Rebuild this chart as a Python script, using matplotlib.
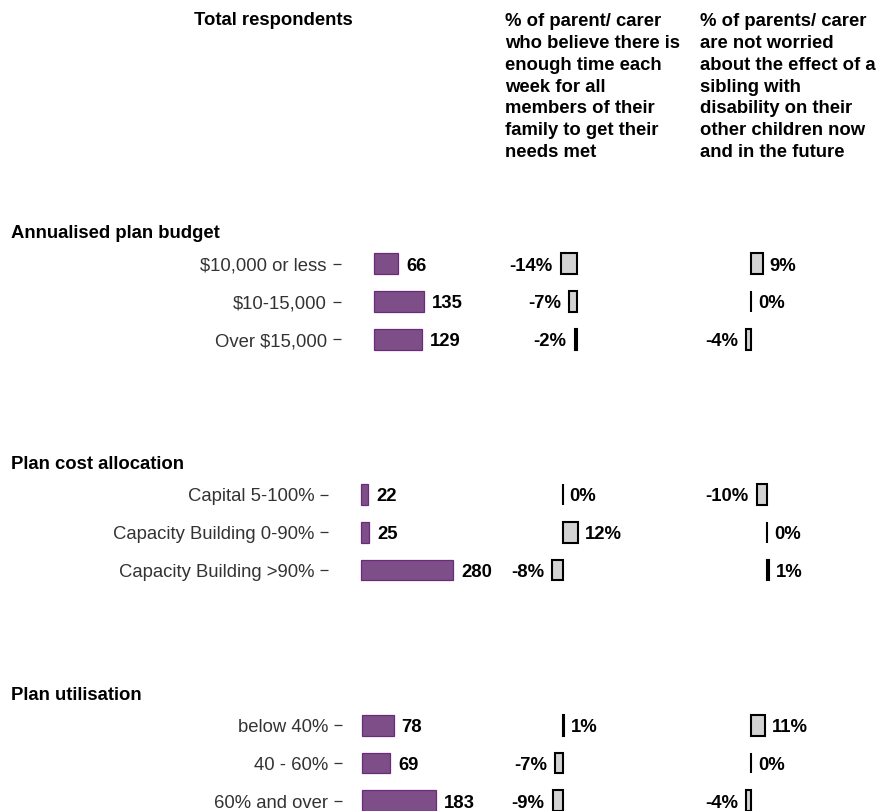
import matplotlib
matplotlib.use("Agg")
import matplotlib.pyplot as plt

plt.rcParams['font.family'] = ['Liberation Sans', 'DejaVu Sans']
plt.rcParams['text.parse_math'] = False

# ---------------- data ----------------
section_titles = ["Annualised plan budget", "Plan cost allocation", "Plan utilisation"]

cats_budget = ["$10,000 or less", "$10-15,000", "Over $15,000"]
resp_budget = [66, 135, 129]
time_budget = [-14, -7, -2]
worry_budget = [9, 0, -4]

cats_alloc = ["Capital 5-100%", "Capacity Building 0-90%", "Capacity Building >90%"]
resp_alloc = [22, 25, 280]
time_alloc = [0, 12, -8]
worry_alloc = [-10, 0, 1]

cats_util = ["below 40%", "40 - 60%", "60% and over"]
resp_util = [78, 69, 183]
time_util = [1, -7, -9]
worry_util = [11, 0, -4]

header_resp = "Total respondents"
header_time = ("% of parent/ carer\nwho believe there is\nenough time each\nweek for all\n"
               "members of their\nfamily to get their\nneeds met")
header_worry = ("% of parents/ carer\nare not worried\nabout the effect of a\nsibling with\n"
                "disability on their\nother children now\nand in the future")

sections = [
    (cats_budget, resp_budget, time_budget, worry_budget),
    (cats_alloc, resp_alloc, time_alloc, worry_alloc),
    (cats_util, resp_util, time_util, worry_util),
]

# ---------------- layout (pixels) ----------------
W, H = 879, 812
ROW = 37.8
# center0, axis_x, resp_zero, resp_scale, c2_zero, c2_scale, c3_zero, c3_scale
layout = [
    (264.7, 341.0, 374.0, 0.37, 577.0, 1.15, 751.0, 1.3),
    (495.5, 328.5, 361.0, 0.33, 562.5, 1.3, 767.5, 1.05),
    (726.2, 342.5, 362.0, 0.405, 563.0, 1.15, 751.0, 1.3),
]

PURPLE = '#7d4e88'
PURPLE_EDGE = '#6a2b7a'
GREY = '#d3d3d3'
FS = 13.3

fig = plt.figure(figsize=(W / 100, H / 100), dpi=100)


def add_ax(x0, x1, ytop, ybot):
    ax = fig.add_axes([x0 / W, 1 - ybot / H, (x1 - x0) / W, (ybot - ytop) / H])
    ax.patch.set_alpha(0)
    for s in ax.spines.values():
        s.set_visible(False)
    ax.set_xticks([])
    ax.set_ylim(2.5, -0.5)
    return ax


for (cats, resp, t, w), title, lay in zip(sections, section_titles, layout):
    c0, axis_x, rz, rs, z2, s2, z3, s3 = lay
    ytop = c0 - 0.5 * ROW
    ybot = c0 + 2.5 * ROW
    ypos = list(range(len(cats)))

    fig.text(11 / W, 1 - (c0 - 26.5) / H, title, ha='left', va='baseline',
             fontsize=FS, fontweight='bold', color='black')

    # respondents
    ax = add_ax(axis_x, 500, ytop, ybot)
    ax.set_xlim(-(rz - axis_x) / rs, (500 - rz) / rs)
    ax.barh(ypos, resp, height=0.55, color=PURPLE, edgecolor=PURPLE_EDGE, linewidth=0.9)
    ax.set_yticks(ypos)
    ax.set_yticklabels([])
    ax.tick_params(axis='y', length=5.5, width=0.9, color='#333333')
    for y, c in zip(ypos, cats):
        ax.annotate(c, xy=(0, y), xycoords=('axes fraction', 'data'), xytext=(-14, -1.5),
                    textcoords='offset pixels', ha='right', va='center',
                    fontsize=FS, color='#333333')
    for y, v in zip(ypos, resp):
        ax.annotate(str(v), xy=(v, y), xytext=(8, -1.5), textcoords='offset pixels',
                    ha='left', va='center', fontsize=FS, fontweight='bold', color='black')

    # percentage columns
    for vals, z, s in ((t, z2, s2), (w, z3, s3)):
        axp = add_ax(z - 90, z + 90, ytop, ybot)
        axp.set_xlim(-90 / s, 90 / s)
        axp.set_yticks([])
        axp.barh(ypos, vals, height=0.55, color=GREY, edgecolor='black', linewidth=1.5)
        for y, v in zip(ypos, vals):
            if v < 0:
                axp.annotate(f"{v}%", xy=(v, y), xytext=(-8, -1.5), textcoords='offset pixels',
                             ha='right', va='center', fontsize=FS, fontweight='bold')
            else:
                axp.annotate(f"{v}%", xy=(v, y), xytext=(7, -1.5), textcoords='offset pixels',
                             ha='left', va='center', fontsize=FS, fontweight='bold')

# headers
fig.text(273.5 / W, 1 - 25 / H, header_resp, ha='center', va='baseline',
         fontsize=FS, fontweight='bold')
fig.text(505 / W, 1 - 13.5 / H, header_time, ha='left', va='top',
         fontsize=FS, fontweight='bold', linespacing=1.36)
fig.text(700 / W, 1 - 13.5 / H, header_worry, ha='left', va='top',
         fontsize=FS, fontweight='bold', linespacing=1.36)

fig.savefig("out.png", dpi=100)
